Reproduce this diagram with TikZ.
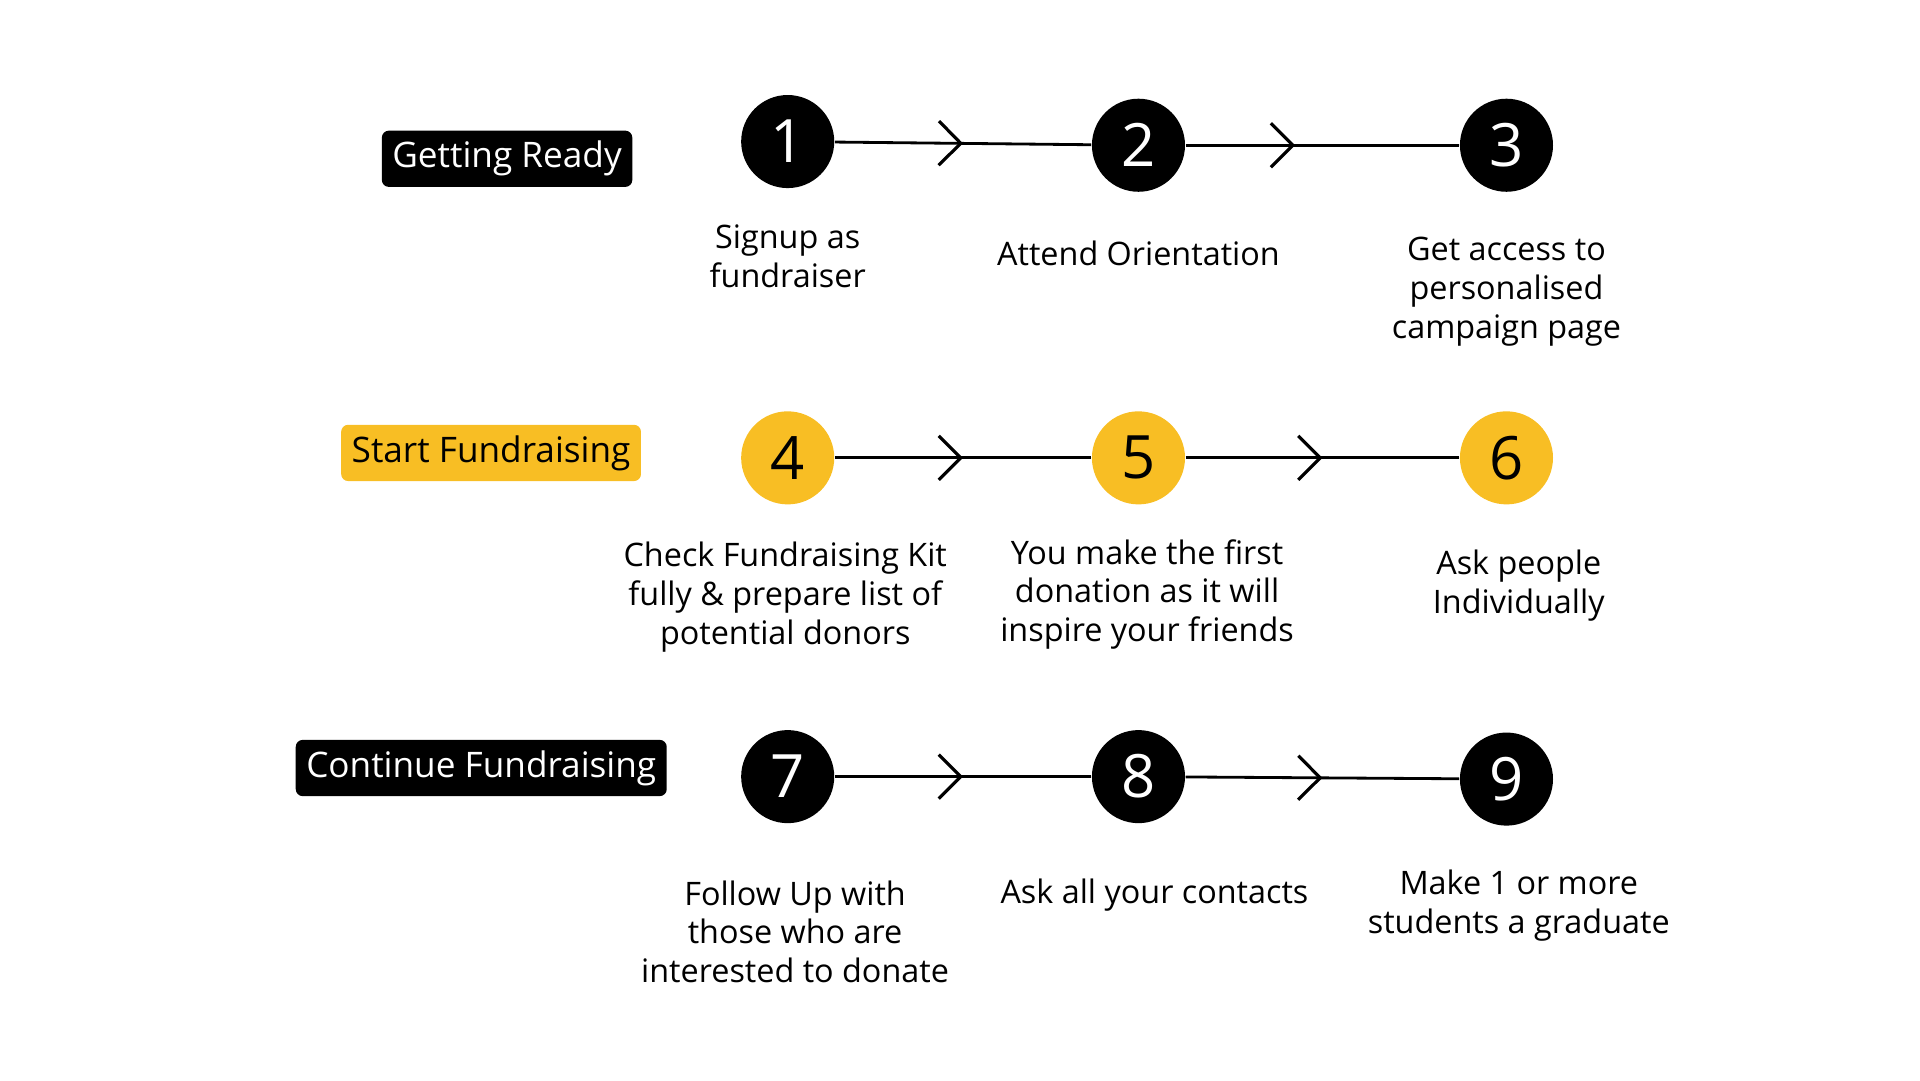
\documentclass[tikz,border=0pt]{standalone}
\usepackage{fontspec}
\setmainfont{Open Sans}
\usetikzlibrary{arrows.meta,decorations.markings}
\definecolor{gold}{HTML}{F8BE24}
\tikzset{
  stepnode/.style={circle,minimum size=0.93cm,inner sep=0pt,font=\fontsize{17}{17}\selectfont},
  done/.style={stepnode,fill=black,text=white},
  fund/.style={stepnode,fill=gold,text=black},
  stage/.style={rounded corners=2pt,inner sep=3pt,minimum height=0.52cm,font=\fontsize{10}{12}\selectfont},
  note/.style={align=center,font=\fontsize{9.2}{11}\selectfont},
  link/.style={line width=0.8pt,postaction={decorate},decoration={markings,mark=at position #1 with {\arrow{Straight Barb[length=2.2mm,width=4.4mm,line width=0.9pt]}}}}
}
\begin{document}
\begin{tikzpicture}[x=0.0123cm,y=-0.0123cm]
    \useasboundingbox (0,0) rectangle (1560,878);
    \node[stage,fill=black,text=white] at (412,129) (ready) {Getting Ready};
    \node[stage,fill=gold] at (399,368) (start) {Start Fundraising};
    \node[stage,fill=black,text=white] at (391,624) (cont) {Continue Fundraising};

    \node[done] at (640,115)  (s1) {1};
    \node[done] at (925,118)  (s2) {2};
    \node[done] at (1224,118) (s3) {3};
    \node[fund] at (640,372)  (s4) {4};
    \node[fund] at (925,372)  (s5) {5};
    \node[fund] at (1224,372) (s6) {6};
    \node[done] at (640,631)  (s7) {7};
    \node[done] at (925,631)  (s8) {8};
    \node[done] at (1224,633) (s9) {9};

    \draw[link=0.5]  (s1) -- (s2);
    \draw[link=0.4]  (s2) -- (s3);
    \draw[link=0.5]  (s4) -- (s5);
    \draw[link=0.5]  (s5) -- (s6);
    \draw[link=0.5]  (s7) -- (s8);
    \draw[link=0.5]  (s8) -- (s9);

    \node[note] at (640,208)  (t1) {Signup as\\fundraiser};
    \node[note] at (925,206)  (t2) {Attend Orientation};
    \node[note] at (1224,237) (t3) {Get access to\\personalised\\campaign page};
    \node[note] at (638,485)  (t4) {Check Fundraising Kit\\fully \& prepare list of\\potential donors};
    \node[note] at (932,483)  (t5) {You make the first\\donation as it will\\inspire your friends};
    \node[note] at (1234,476) (t6) {Ask people\\Individually};
    \node[note] at (646,757)  (t7) {Follow Up with\\those who are\\interested to donate};
    \node[note] at (938,727)  (t8) {Ask all your contacts};
    \node[note] at (1234,736) (t9) {Make 1 or more\\students a graduate};
\end{tikzpicture}
\end{document}
